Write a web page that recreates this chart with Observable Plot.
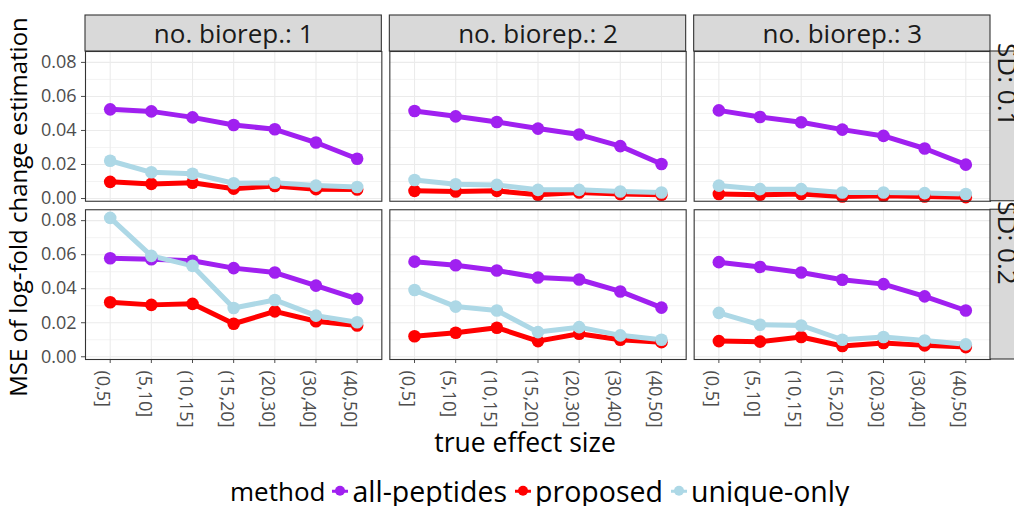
<!DOCTYPE html>
<html>
<head>
<meta charset="utf-8">
<script src="https://cdn.jsdelivr.net/npm/d3@7"></script>
<script src="https://cdn.jsdelivr.net/npm/@observablehq/plot@0.6"></script>
<style>
  html, body { margin: 0; padding: 0; background: #fff; }
  body { font-family: "Open Sans", sans-serif; }
  #wrap { position: relative; width: 1014px; height: 506px; overflow: hidden; }
  #chart { position: absolute; left: 0; top: 0; }
  .ytitle { position: absolute; left: 18px; top: 207px; transform: translate(-50%, -50%) rotate(-90deg);
            white-space: nowrap; font-size: 24px; line-height: 1; color: #000; }
  .xtitle { position: absolute; left: 525px; top: 442px; transform: translate(-50%, -50%);
            white-space: nowrap; font-size: 26.5px; line-height: 1; color: #000; }
  #legend { position: absolute; left: 230px; top: 491px; transform: translateY(-50%);
            display: flex; align-items: center; white-space: nowrap; color: #000; line-height: 1; }
  #legend .title { font-size: 26px; margin-right: 7px; }
  #legend .lab { font-size: 28.5px; margin-right: 8px; }
  #legend .key { position: relative; width: 16px; height: 16px; margin-right: 4px; flex: none; }
  #legend .key .ln { position: absolute; left: 0; right: 0; top: 6.5px; height: 3px; }
  #legend .key .pt { position: absolute; left: 3px; top: 3px; width: 10px; height: 10px; border-radius: 50%; }
</style>
</head>
<body>
<div id="wrap">
  <div id="chart"></div>
  <div class="ytitle">MSE of log-fold change estimation</div>
  <div class="xtitle">true effect size</div>
  <div id="legend"></div>
</div>
<script>
// Effect-size bins (x axis), methods, and facet levels
const categories = ["(0,5]", "(5,10]", "(10,15]", "(15,20]", "(20,30]", "(30,40]", "(40,50]"];
const methods = ["all-peptides", "proposed", "unique-only"];
const methodColors = ["#a020f0", "#ff0000", "#add8e6"];
const biorepLevels = [1, 2, 3];
const sdLevels = ["0.1", "0.2"];
const yTicks = [0, 0.02, 0.04, 0.06, 0.08];
const yMinorTicks = [0.01, 0.03, 0.05, 0.07];

// MSE per effect-size bin, SD = 0.1
const sd01_bio1_all    = [0.0524, 0.0512, 0.0477, 0.0432, 0.0407, 0.0329, 0.0234];
const sd01_bio1_prop   = [0.0098, 0.0086, 0.0093, 0.0058, 0.0074, 0.0055, 0.0053];
const sd01_bio1_unique = [0.0222, 0.0154, 0.0146, 0.0090, 0.0093, 0.0076, 0.0068];
const sd01_bio2_all    = [0.0514, 0.0483, 0.0450, 0.0411, 0.0376, 0.0308, 0.0203];
const sd01_bio2_prop   = [0.0045, 0.0041, 0.0045, 0.0022, 0.0035, 0.0026, 0.0022];
const sd01_bio2_unique = [0.0109, 0.0084, 0.0080, 0.0051, 0.0051, 0.0041, 0.0035];
const sd01_bio3_all    = [0.0518, 0.0479, 0.0448, 0.0405, 0.0368, 0.0294, 0.0199];
const sd01_bio3_prop   = [0.0027, 0.0022, 0.0027, 0.0012, 0.0016, 0.0012, 0.0008];
const sd01_bio3_unique = [0.0076, 0.0055, 0.0055, 0.0035, 0.0035, 0.0032, 0.0027];

// MSE per effect-size bin, SD = 0.2
const sd02_bio1_all    = [0.0579, 0.0573, 0.0564, 0.0521, 0.0495, 0.0418, 0.0340];
const sd02_bio1_prop   = [0.0320, 0.0305, 0.0311, 0.0194, 0.0267, 0.0209, 0.0184];
const sd02_bio1_unique = [0.0816, 0.0593, 0.0534, 0.0287, 0.0334, 0.0242, 0.0203];
const sd02_bio2_all    = [0.0559, 0.0538, 0.0507, 0.0466, 0.0454, 0.0384, 0.0289];
const sd02_bio2_prop   = [0.0121, 0.0141, 0.0171, 0.0092, 0.0135, 0.0100, 0.0086];
const sd02_bio2_unique = [0.0392, 0.0295, 0.0272, 0.0145, 0.0174, 0.0126, 0.0100];
const sd02_bio3_all    = [0.0556, 0.0528, 0.0495, 0.0453, 0.0427, 0.0355, 0.0272];
const sd02_bio3_prop   = [0.0092, 0.0089, 0.0116, 0.0063, 0.0081, 0.0067, 0.0057];
const sd02_bio3_unique = [0.0258, 0.0188, 0.0184, 0.0100, 0.0116, 0.0096, 0.0073];

const series = [
  ["0.1", 1, sd01_bio1_all, sd01_bio1_prop, sd01_bio1_unique],
  ["0.1", 2, sd01_bio2_all, sd01_bio2_prop, sd01_bio2_unique],
  ["0.1", 3, sd01_bio3_all, sd01_bio3_prop, sd01_bio3_unique],
  ["0.2", 1, sd02_bio1_all, sd02_bio1_prop, sd02_bio1_unique],
  ["0.2", 2, sd02_bio2_all, sd02_bio2_prop, sd02_bio2_unique],
  ["0.2", 3, sd02_bio3_all, sd02_bio3_prop, sd02_bio3_unique]
];

// Long-format table: one row per (sd, biorep, method, bin)
const rows = [];
for (const [sd, bio, ...perMethod] of series) {
  perMethod.forEach((values, m) => {
    values.forEach((v, i) => rows.push({sd, bio, method: methods[m], bin: categories[i], mse: v}));
  });
}

// Layout of the facet grid
const W = 1014, H = 440;
const mLeft = 85, mRight = 24, mTop = 51, mBottom = 81;
const stripSize = 36;
const colGap = 8, rowGap = 8.5;
const panelW = (W - mLeft - mRight - 2 * colGap) / 3;
const panelH = (H - mTop - mBottom - rowGap) / 2;

const topStrips = biorepLevels.map(bio => ({bio, sd: sdLevels[0]}));
const rightStrips = sdLevels.map(sd => ({bio: biorepLevels[biorepLevels.length - 1], sd}));
const xLabels = biorepLevels.flatMap(bio => categories.map(bin => ({bio, sd: sdLevels[sdLevels.length - 1], bin})));

const chart = Plot.plot({
  width: W,
  height: H,
  marginLeft: mLeft,
  marginRight: mRight,
  marginTop: mTop,
  marginBottom: mBottom,
  style: {fontFamily: "Open Sans, sans-serif", fontSize: "18px", color: "#4d4d4d", background: "#fff", overflow: "hidden"},
  fx: {domain: biorepLevels, paddingInner: colGap / (panelW + colGap), paddingOuter: 0, round: false, axis: null, label: null},
  fy: {domain: sdLevels, paddingInner: rowGap / (panelH + rowGap), paddingOuter: 0, round: false, axis: null, label: null},
  x: {type: "point", domain: categories, padding: 0.6, round: false, tickSize: 4, tickFormat: () => "", label: null},
  y: {domain: [-0.0016, 0.0864], ticks: yTicks, tickFormat: ".2f", tickSize: 4, label: null},
  color: {domain: methods, range: methodColors},
  marks: [
    // panel grid
    Plot.ruleY(yMinorTicks, {stroke: "#ebebeb", strokeWidth: 0.6}),
    Plot.ruleY(yTicks, {stroke: "#ebebeb", strokeWidth: 1.1}),
    Plot.ruleX(categories, {stroke: "#ebebeb", strokeWidth: 1.1}),
    // series
    Plot.line(rows, {fx: "bio", fy: "sd", x: "bin", y: "mse", z: "method", stroke: "method", strokeWidth: 5, strokeLinejoin: "round"}),
    Plot.dot(rows, {fx: "bio", fy: "sd", x: "bin", y: "mse", fill: "method", r: 6.3}),
    // panel border
    Plot.frame({stroke: "#333333", strokeWidth: 1.1}),
    // column strips
    Plot.rect(topStrips, {fx: "bio", fy: "sd", fill: "#d9d9d9", stroke: "#333333", strokeWidth: 1.1,
      insetTop: -stripSize, insetBottom: panelH}),
    Plot.text(topStrips, {fx: "bio", fy: "sd", frameAnchor: "top", dy: -27,
      text: d => `no. biorep.: ${d.bio}`, fill: "#1a1a1a", fontSize: 26}),
    // row strips
    Plot.rect(rightStrips, {fx: "bio", fy: "sd", fill: "#d9d9d9", stroke: "#333333", strokeWidth: 1.1,
      insetLeft: panelW, insetRight: -stripSize}),
    Plot.text(rightStrips, {fx: "bio", fy: "sd", frameAnchor: "right", dx: 16, rotate: 90,
      text: d => `SD: ${d.sd}`, fill: "#1a1a1a", fontSize: 26}),
    // rotated bin labels under the bottom row
    Plot.text(xLabels, {fx: "bio", fy: "sd", x: "bin", frameAnchor: "bottom", dy: 11, rotate: 90,
      textAnchor: "start", lineAnchor: "top", text: "bin", fill: "#4d4d4d", fontSize: 18})
  ]
});
document.getElementById("chart").append(chart);

// Legend: title, then a line-and-dot key with its label for each method
const legend = document.getElementById("legend");
const t = document.createElement("span");
t.className = "title";
t.textContent = "method";
legend.append(t);
methods.forEach((m, i) => {
  const key = document.createElement("span");
  key.className = "key";
  const ln = document.createElement("span");
  ln.className = "ln";
  ln.style.background = methodColors[i];
  const pt = document.createElement("span");
  pt.className = "pt";
  pt.style.background = methodColors[i];
  key.append(ln, pt);
  const lab = document.createElement("span");
  lab.className = "lab";
  lab.textContent = m;
  legend.append(key, lab);
});
</script>
</body>
</html>
